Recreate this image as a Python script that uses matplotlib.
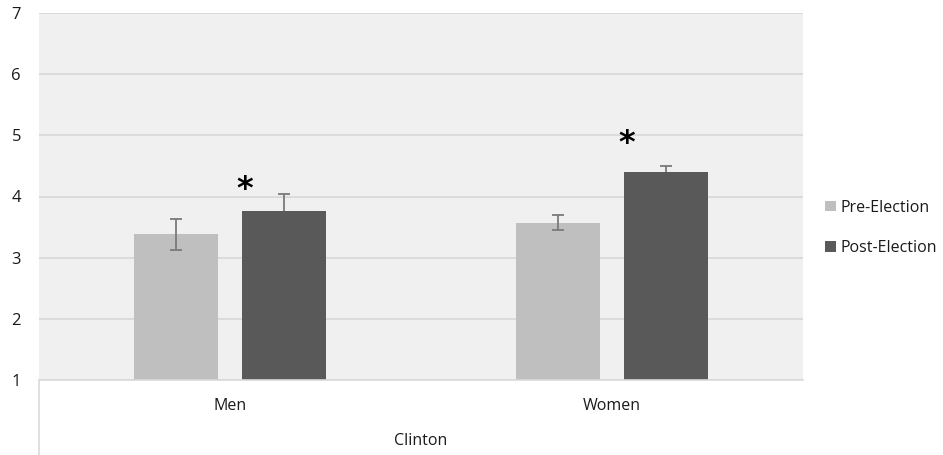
import numpy as np
import matplotlib.pyplot as plt
from matplotlib.patches import Patch

# Data
groups = ['Men', 'Women']
group_label = 'Clinton'
series = ['Pre-Election', 'Post-Election']
pre_vals = [3.38, 3.57]
pre_err = [0.25, 0.12]
post_vals = [3.76, 4.40]
post_err = [0.28, 0.10]
star_levels = [4.12, 4.87]
yticks = [1, 2, 3, 4, 5, 6, 7]

plt.rcParams['font.family'] = ['Open Sans', 'DejaVu Sans']
TXT = '#1a1a1a'

W, H = 943, 455
fig = plt.figure(figsize=(W / 100, H / 100), dpi=100)
fig.patch.set_facecolor('white')

# main plot area (pixel-based placement)
left, right, top, bottom = 39, 803, 13, 380
ax = fig.add_axes([left / W, 1 - bottom / H, (right - left) / W, (bottom - top) / H])
ax.set_facecolor('#f0f0f0')

x = np.arange(len(groups))
width = 0.22
gap = 0.065
pre_x = x - (width + gap) / 2
post_x = x + (width + gap) / 2

err_kw = dict(fmt='none', ecolor='#7a7a7a', elinewidth=1.3, capsize=4.5, capthick=1.3)
ax.bar(pre_x, np.array(pre_vals) - 1, width, bottom=1, color='#bfbfbf', zorder=3)
ax.bar(post_x, np.array(post_vals) - 1, width, bottom=1, color='#595959', zorder=3)
# pre-election error bars show over the bar, post-election ones sit behind it
ax.errorbar(pre_x, pre_vals, yerr=pre_err, zorder=4, **err_kw)
ax.errorbar(post_x, post_vals, yerr=post_err, zorder=2, **err_kw)

# significance stars above post-election bars
for xi, lvl in zip(post_x, star_levels):
    ax.text(xi - width / 2 + 0.005, lvl, '*', ha='center', va='center',
            fontsize=23, fontweight='bold', color='black', family='DejaVu Sans')

ax.set_xlim(-0.5, len(groups) - 0.5)
ax.set_ylim(1, 7)
ax.set_yticks(yticks)
ax.set_yticklabels([str(t) for t in yticks], fontsize=12, color=TXT)
ax.tick_params(axis='y', length=0, pad=13)
ax.set_xticks([])
ax.grid(axis='y', color='#d9d9d9', linewidth=1.3, zorder=0)
ax.set_axisbelow(True)
for s in ax.spines.values():
    s.set_visible(False)

# category box below the plot
cat = fig.add_axes([left / W, 0, (right - left) / W, (H - bottom) / H])
cat.set_xlim(-0.5, len(groups) - 0.5)
cat.set_ylim(0, 1)
cat.set_xticks([])
cat.set_yticks([])
for name, s in cat.spines.items():
    s.set_color('#d9d9d9')
    s.set_linewidth(1.2)
cat.spines['bottom'].set_visible(False)
cat.spines['right'].set_visible(False)
for xi, g in zip(x, groups):
    cat.text(xi, 1 - 26 / 75, g, ha='center', va='center', fontsize=11.5, color=TXT)
cat.text(np.mean(x), 1 - 61 / 75, group_label, ha='center', va='center',
         fontsize=11.5, color=TXT)

# legend
handles = [Patch(facecolor='#bfbfbf', label=series[0]),
           Patch(facecolor='#595959', label=series[1])]
fig.legend(handles=handles, loc='center left', bbox_to_anchor=(811 / W, 1 - 228 / H),
           frameon=False, fontsize=11.5, handlelength=0.65, handleheight=0.65,
           handletextpad=0.3, labelspacing=1.55, labelcolor=TXT)

fig.savefig('out.png', dpi=100)
